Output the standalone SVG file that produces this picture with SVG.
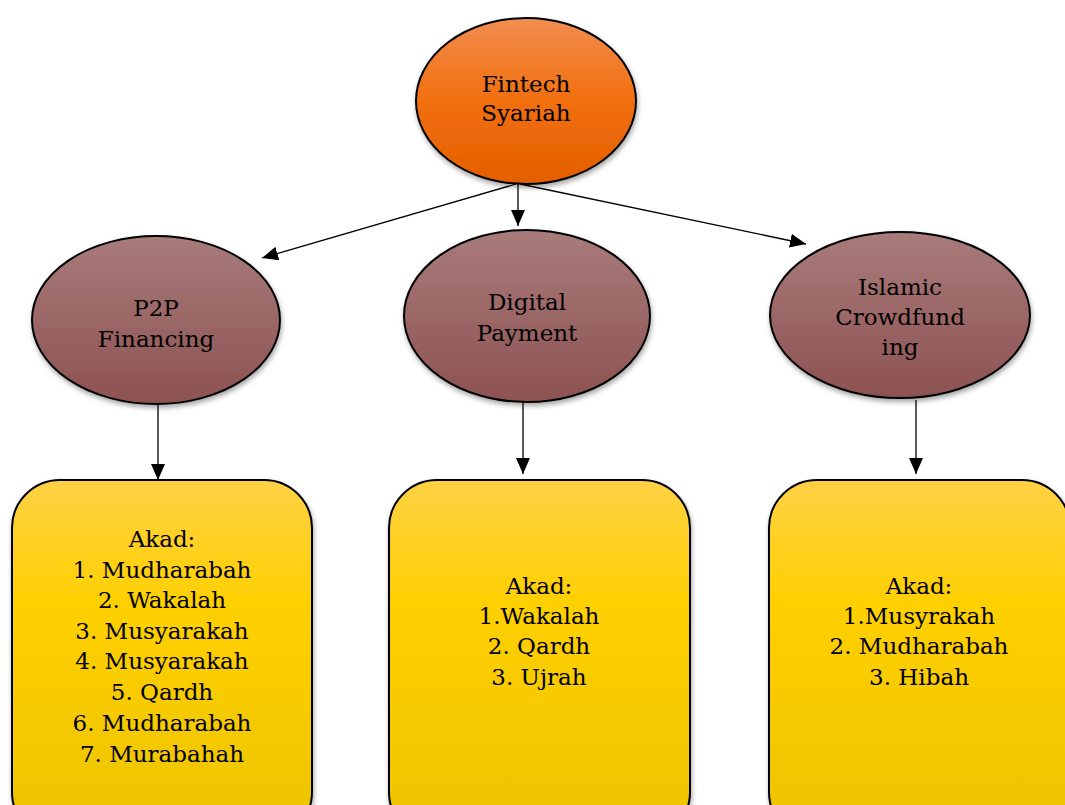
<svg xmlns="http://www.w3.org/2000/svg" width="1065" height="805" viewBox="0 0 1065 805">
<defs>
<linearGradient id="gOrange" x1="0" y1="0" x2="0" y2="1">
<stop offset="0" stop-color="#F28D50"/>
<stop offset="0.5" stop-color="#F16F0E"/>
<stop offset="1" stop-color="#E35F00"/>
</linearGradient>
<linearGradient id="gMaroon" x1="0" y1="0" x2="0" y2="1">
<stop offset="0" stop-color="#A97B7B"/>
<stop offset="1" stop-color="#8D5252"/>
</linearGradient>
<linearGradient id="gGold" x1="0" y1="0" x2="0" y2="1">
<stop offset="0" stop-color="#FFD145"/>
<stop offset="0.35" stop-color="#FFD000"/>
<stop offset="1" stop-color="#EBC300"/>
</linearGradient>
<filter id="sh" x="-10%" y="-10%" width="125%" height="125%">
<feDropShadow dx="1" dy="3" stdDeviation="2.5" flood-color="#000" flood-opacity="0.35"/>
</filter>
<marker id="ah" viewBox="0 0 16 14" refX="16" refY="7" markerWidth="16" markerHeight="14" markerUnits="userSpaceOnUse" orient="auto">
<path d="M0,0 L16,7 L0,14 Z" fill="#000"/>
</marker>
</defs>
<style>
.node { stroke: #000; stroke-width: 2; filter: url(#sh); }
.t { font-family: "DejaVu Serif", "Liberation Serif", serif; font-size: 23px; fill: #000; text-anchor: middle; }
.conn { stroke: #000; stroke-width: 1.3; fill: none; marker-end: url(#ah); }
</style>
<rect width="1065" height="805" fill="#fff"/>
<g id="connectors">
<line class="conn" x1="516" y1="184" x2="262" y2="258"/>
<line class="conn" x1="518" y1="184" x2="518" y2="226"/>
<line class="conn" x1="520" y1="184" x2="806" y2="244"/>
<line class="conn" x1="158" y1="405" x2="158" y2="480"/>
<line class="conn" x1="523" y1="402" x2="523" y2="474"/>
<line class="conn" x1="916" y1="400" x2="916" y2="474"/>
</g>
<g id="fintech">
<ellipse class="node" cx="526" cy="101" rx="110" ry="83" fill="url(#gOrange)"/>
<text class="t" x="526" y="92">Fintech</text>
<text class="t" x="526" y="121">Syariah</text>
</g>
<g id="p2p">
<ellipse class="node" cx="156" cy="320" rx="124" ry="84" fill="url(#gMaroon)"/>
<text class="t" x="156" y="316">P2P</text>
<text class="t" x="156" y="347">Financing</text>
</g>
<g id="digital">
<ellipse class="node" cx="527" cy="316" rx="123" ry="86" fill="url(#gMaroon)"/>
<text class="t" x="527" y="310">Digital</text>
<text class="t" x="527" y="341">Payment</text>
</g>
<g id="islamic">
<ellipse class="node" cx="900" cy="315" rx="130" ry="83" fill="url(#gMaroon)"/>
<text class="t" x="900" y="295">Islamic</text>
<text class="t" x="900" y="325">Crowdfund</text>
<text class="t" x="900" y="355">ing</text>
</g>
<g id="akad-p2p">
<rect class="node" x="12" y="480" width="300" height="360" rx="48" ry="48" fill="url(#gGold)"/>
<text class="t" x="162" y="547">Akad:</text>
<text class="t" x="162" y="578">1. Mudharabah</text>
<text class="t" x="162" y="608">2. Wakalah</text>
<text class="t" x="162" y="639">3. Musyarakah</text>
<text class="t" x="162" y="669">4. Musyarakah</text>
<text class="t" x="162" y="700">5. Qardh</text>
<text class="t" x="162" y="731">6. Mudharabah</text>
<text class="t" x="162" y="762">7. Murabahah</text>
</g>
<g id="akad-digital">
<rect class="node" x="389" y="480" width="301" height="360" rx="48" ry="48" fill="url(#gGold)"/>
<text class="t" x="539" y="594">Akad:</text>
<text class="t" x="539" y="624">1.Wakalah</text>
<text class="t" x="539" y="654">2. Qardh</text>
<text class="t" x="539" y="685">3. Ujrah</text>
</g>
<g id="akad-islamic">
<rect class="node" x="769" y="480" width="301" height="360" rx="48" ry="48" fill="url(#gGold)"/>
<text class="t" x="919" y="594">Akad:</text>
<text class="t" x="919" y="624">1.Musyrakah</text>
<text class="t" x="919" y="654">2. Mudharabah</text>
<text class="t" x="919" y="685">3. Hibah</text>
</g>
</svg>
